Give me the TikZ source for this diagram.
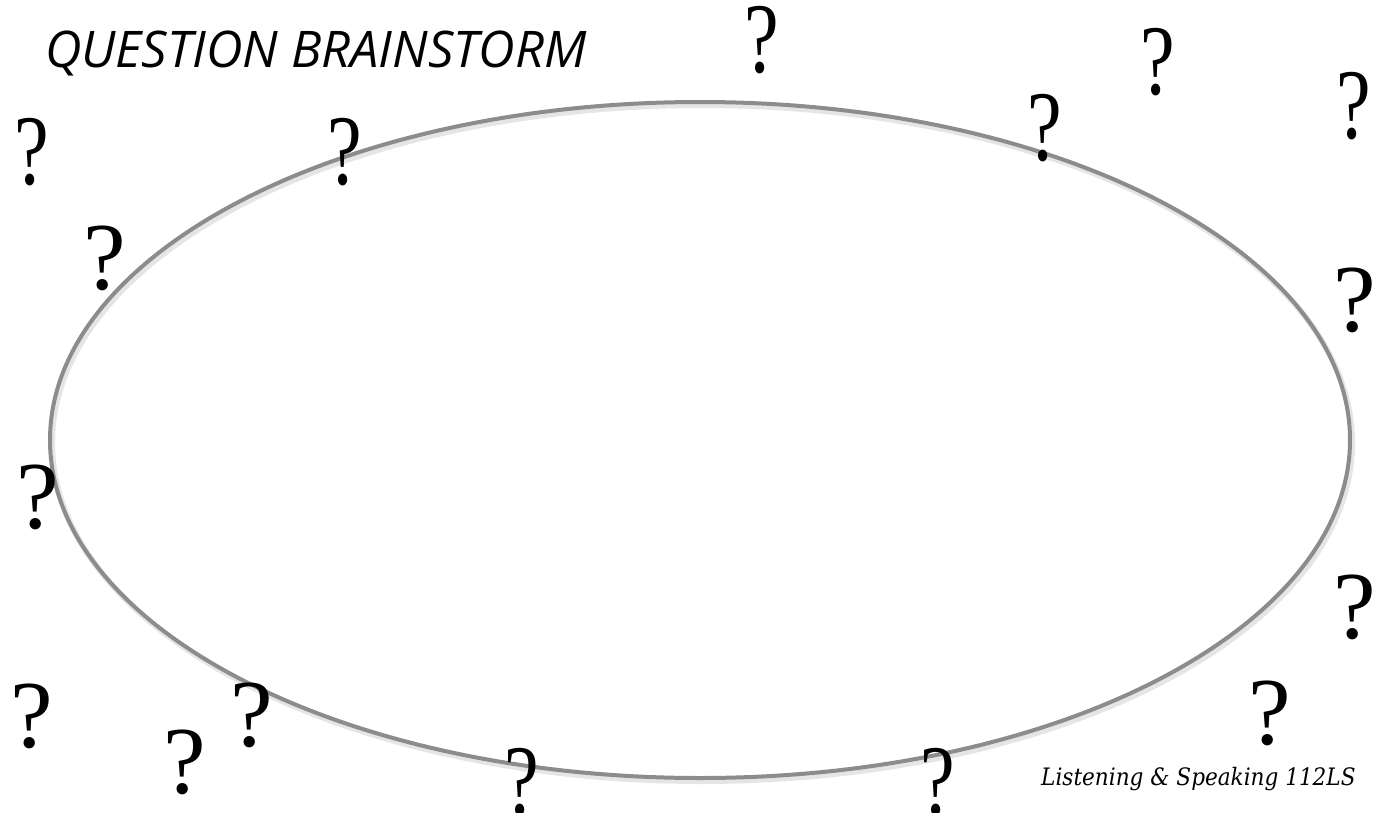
\documentclass[tikz,border=0pt]{standalone}
\usepackage{fontspec}
\setmainfont{Liberation Serif}
\newfontfamily\titlefont{Open Sans}
\newfontfamily\footfont{DejaVu Serif Condensed}
\begin{document}
\begin{tikzpicture}[x=1pt,y=-1pt,
  qn/.style={inner sep=0pt,font=\fontsize{96}{96}\selectfont},
  qc/.style={inner sep=0pt,font=\fontsize{100}{100}\selectfont},
  ring/.style={draw=black!45,line width=4pt},
  ringshadow/.style={draw=black!10,line width=6pt}]
\useasboundingbox (0,0) rectangle (1382,812);
\fill[white] (0,0) rectangle (1382,812);
% ellipse
\draw[ringshadow] (702,443) ellipse [x radius=650, y radius=338];
\draw[ring] (700,440) ellipse [x radius=650, y radius=338];
\node[inner sep=0pt] (ell) at (700,440) {};
% title
\node[anchor=base west,inner sep=0pt,font=\titlefont\itshape\fontsize{50.5}{50}\selectfont] (title) at (45,67) {QUESTION BRAINSTORM};
% footer
\node[anchor=base west,inner sep=0pt,font=\footfont\itshape\fontsize{24}{24}\selectfont] (foot) at (1041,785) {Listening \& Speaking 112LS};
% narrow question marks
\newcommand{\cq}{\scalebox{0.78}[1]{?}}
\node[qc] (q1) at (762,40) {\cq};
\node[qc] (q2) at (1158,62) {\cq};
\node[qc] (q3) at (1354,106) {\cq};
\node[qc] (q4) at (1045,128) {\cq};
\node[qc] (q5) at (32,152) {\cq};
\node[qc] (q6) at (345,152) {\cq};
\node[qc] (q15) at (522,782) {\cq};
\node[qc] (q16) at (938,782) {\cq};
% regular question marks
\node[qn] (q7) at (105,258) {?};
\node[qn] (q8) at (1355,300) {?};
\node[qn] (q9) at (38,497) {?};
\node[qn] (q10) at (1355,607) {?};
\node[qn] (q11) at (32,716) {?};
\node[qn] (q12) at (252,715) {?};
\node[qn] (q13) at (185,762) {?};
\node[qn] (q14) at (1270,713) {?};
\end{tikzpicture}
\end{document}
